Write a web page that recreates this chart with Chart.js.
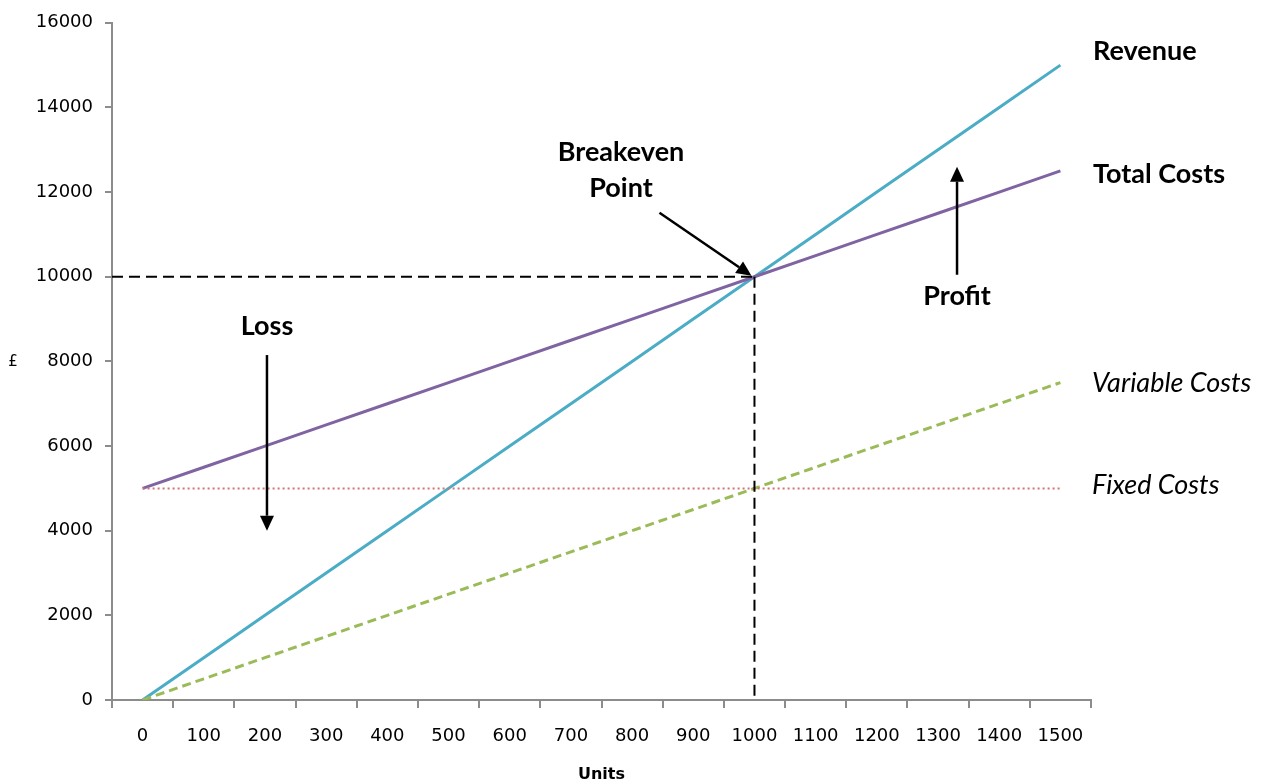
<!DOCTYPE html>
<html>
<head>
<meta charset="utf-8">
<script src="https://cdn.jsdelivr.net/npm/chart.js@4"></script>
<style>
  html, body { margin: 0; padding: 0; background: #fff; }
  #wrap { width: 1268px; height: 784px; }
</style>
</head>
<body>
<div id="wrap"><canvas id="chart"></canvas></div>
<script>
// DATA
const units = ["0", "100", "200", "300", "400", "500", "600", "700", "800", "900", "1000", "1100", "1200", "1300", "1400", "1500"];
const revenue = [0, 1000, 2000, 3000, 4000, 5000, 6000, 7000, 8000, 9000, 10000, 11000, 12000, 13000, 14000, 15000];
const totalCosts = [5000, 5500, 6000, 6500, 7000, 7500, 8000, 8500, 9000, 9500, 10000, 10500, 11000, 11500, 12000, 12500];
const variableCosts = [0, 500, 1000, 1500, 2000, 2500, 3000, 3500, 4000, 4500, 5000, 5500, 6000, 6500, 7000, 7500];
const fixedCosts = [5000, 5000, 5000, 5000, 5000, 5000, 5000, 5000, 5000, 5000, 5000, 5000, 5000, 5000, 5000, 5000];
const yTicks = [0, 2000, 4000, 6000, 8000, 10000, 12000, 14000, 16000];

const breakevenIndex = 10;     // 1000 units
const breakevenValue = 10000;  // £

const AXIS_GREY = "#8c8c8c";
const TICK_FONT = { family: "DejaVu Sans", size: 18 };

// arrow helper
function drawArrow(ctx, x1, y1, x2, y2) {
  const ang = Math.atan2(y2 - y1, x2 - x1);
  const headLen = 15, headW = 7;
  const bx = x2 - headLen * Math.cos(ang);
  const by = y2 - headLen * Math.sin(ang);
  ctx.beginPath();
  ctx.moveTo(x1, y1);
  ctx.lineTo(bx, by);
  ctx.stroke();
  ctx.beginPath();
  ctx.moveTo(x2, y2);
  ctx.lineTo(bx + headW * Math.sin(ang), by - headW * Math.cos(ang));
  ctx.lineTo(bx - headW * Math.sin(ang), by + headW * Math.cos(ang));
  ctx.closePath();
  ctx.fill();
}

// annotations: series labels, breakeven guides, arrows
const annotations = {
  id: "annotations",
  afterDatasetsDraw(chart) {
    const ctx = chart.ctx;
    const x = chart.scales.x, y = chart.scales.y;
    const bx = x.getPixelForValue(breakevenIndex);
    const by = y.getPixelForValue(breakevenValue);

    ctx.save();
    // breakeven dashed guides
    ctx.strokeStyle = "#000";
    ctx.lineWidth = 2;
    ctx.setLineDash([11, 6]);
    ctx.beginPath();
    ctx.moveTo(x.left, by);
    ctx.lineTo(bx, by);
    ctx.moveTo(bx, by);
    ctx.lineTo(bx, y.bottom);
    ctx.stroke();
    ctx.setLineDash([]);

    // arrows
    ctx.fillStyle = "#000";
    ctx.lineWidth = 2.5;
    drawArrow(ctx, bx - 95, by - 64, bx - 3, by - 1);
    const lossX = x.getPixelForValue(2) + 2;
    drawArrow(ctx, lossX, y.getPixelForValue(8150), lossX, y.getPixelForValue(4000));
    const profX = x.getPixelForValue(13) + 19;
    drawArrow(ctx, profX, y.getPixelForValue(10000) - 2, profX, y.getPixelForValue(12600));

    // text labels
    ctx.fillStyle = "#000";
    ctx.textBaseline = "middle";
    ctx.font = "bold 27px Lato";
    ctx.textAlign = "left";
    ctx.fillText("Revenue", 1093, 51);
    ctx.fillText("Total Costs", 1093, 174);
    ctx.textAlign = "center";
    ctx.fillText("Breakeven", 621, 152);
    ctx.fillText("Point", 621, 188);
    ctx.fillText("Loss", lossX, 326);
    ctx.fillText("Profit", profX, 296);
    ctx.font = "italic 27px Lato";
    ctx.textAlign = "left";
    ctx.fillText("Variable Costs", 1092, 383);
    ctx.fillText("Fixed Costs", 1092, 485);

    // y axis title
    ctx.font = "15px DejaVu Sans";
    ctx.textAlign = "center";
    ctx.fillText("£", 13, 362);
    ctx.restore();
  }
};

const ctx = document.getElementById("chart").getContext("2d");
new Chart(ctx, {
  type: "line",
  data: {
    labels: units,
    datasets: [
      {
        label: "Fixed Costs",
        data: fixedCosts,
        borderColor: "#d07472",
        borderWidth: 2,
        borderDash: [2, 3],
        pointRadius: 0,
        tension: 0
      },
      {
        label: "Variable Costs",
        data: variableCosts,
        borderColor: "#9BBB59",
        borderWidth: 3,
        borderDash: [9, 5],
        pointRadius: 0,
        tension: 0
      },
      {
        label: "Total Costs",
        data: totalCosts,
        borderColor: "#8064A2",
        borderWidth: 3,
        pointRadius: 0,
        tension: 0
      },
      {
        label: "Revenue",
        data: revenue,
        borderColor: "#4BACC6",
        borderWidth: 3,
        pointRadius: 0,
        tension: 0
      }
    ]
  },
  options: {
    responsive: true,
    maintainAspectRatio: false,
    animation: false,
    layout: {
      padding: { left: 0, right: 177, top: 18, bottom: 0 }
    },
    plugins: {
      legend: { display: false },
      tooltip: { enabled: false }
    },
    scales: {
      x: {
        offset: true,
        grid: {
          offset: true,
          drawOnChartArea: false,
          drawTicks: true,
          tickLength: 8,
          color: AXIS_GREY,
          lineWidth: 2
        },
        border: { color: AXIS_GREY, width: 2 },
        ticks: {
          color: "#000",
          font: TICK_FONT,
          padding: 18,
          maxRotation: 0,
          autoSkip: false
        },
        title: {
          display: true,
          text: "Units",
          color: "#000",
          font: { family: "DejaVu Sans", size: 16, weight: "bold" },
          padding: { top: 0, bottom: 0 }
        },
        afterFit(scale) { scale.height = 84; }
      },
      y: {
        min: 0,
        max: 16000,
        afterBuildTicks(scale) {
          scale.ticks = yTicks.map(v => ({ value: v }));
        },
        grid: {
          drawOnChartArea: false,
          drawTicks: true,
          tickLength: 7,
          color: AXIS_GREY,
          lineWidth: 2
        },
        border: { color: AXIS_GREY, width: 2 },
        ticks: {
          color: "#000",
          font: TICK_FONT,
          padding: 12,
          callback: v => String(v)
        },
        afterFit(scale) { scale.width = 112; }
      }
    }
  },
  plugins: [annotations]
});
</script>
</body>
</html>
